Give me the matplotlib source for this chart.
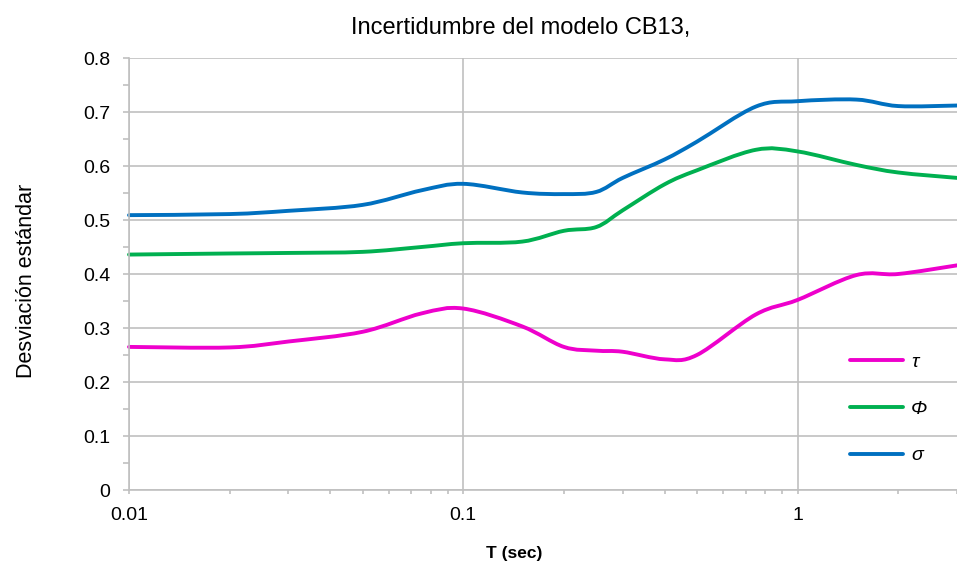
import numpy as np
import matplotlib
matplotlib.use('Agg')
import matplotlib.pyplot as plt
from matplotlib.path import Path
from matplotlib.patches import PathPatch
from matplotlib.lines import Line2D
from matplotlib.ticker import FixedLocator, NullFormatter, FuncFormatter

plt.rcParams['font.family'] = ['Liberation Sans', 'DejaVu Sans']

# Periods (s) and standard deviations of the CB13 model
periods = [0.01, 0.02, 0.03, 0.05, 0.075, 0.1, 0.15, 0.2, 0.25, 0.3, 0.4, 0.5, 0.75, 1.0, 1.5, 2.0, 3.0]
tau = [0.265, 0.264, 0.275, 0.293, 0.327, 0.336, 0.303, 0.265, 0.258, 0.256, 0.242, 0.250, 0.325, 0.352, 0.398, 0.400, 0.416]
phi = [0.436, 0.438, 0.439, 0.441, 0.450, 0.457, 0.460, 0.480, 0.487, 0.518, 0.566, 0.592, 0.630, 0.627, 0.602, 0.588, 0.578]
sigma = [0.509, 0.511, 0.517, 0.528, 0.555, 0.567, 0.551, 0.548, 0.552, 0.578, 0.612, 0.645, 0.710, 0.720, 0.723, 0.711, 0.712]

series_labels = ['τ', 'Φ', 'σ']
series_colors = ['#EE00CC', '#00B050', '#0070C0']


def smooth_path(x, y, k=1/6):
    # spreadsheet-style smoothed line: cubic Bezier through every point (in log-x space)
    lx = np.log10(x)
    y = np.asarray(y, float)
    n = len(lx)
    verts = [(lx[0], y[0])]
    codes = [Path.MOVETO]
    for i in range(n - 1):
        p0 = (lx[max(i - 1, 0)], y[max(i - 1, 0)])
        p1 = (lx[i], y[i])
        p2 = (lx[i + 1], y[i + 1])
        p3 = (lx[min(i + 2, n - 1)], y[min(i + 2, n - 1)])
        c1 = (p1[0] + (p2[0] - p0[0]) * k, p1[1] + (p2[1] - p0[1]) * k)
        c2 = (p2[0] - (p3[0] - p1[0]) * k, p2[1] - (p3[1] - p1[1]) * k)
        verts += [c1, c2, p2]
        codes += [Path.CURVE4] * 3
    verts = [(10 ** vx, vy) for vx, vy in verts]
    return Path(verts, codes)


fig = plt.figure(figsize=(9.57, 5.67), dpi=100)
ax = fig.add_axes([0.1348, 0.1358, 0.8652, 0.7619])

ax.set_xscale('log')
ax.set_xlim(0.01, 3)
ax.set_ylim(0, 0.8)

grid_col = '#C0C0C0'
ax.grid(True, which='major', color=grid_col, linewidth=1.2)
ax.set_axisbelow(True)
for s in ['top', 'right']:
    ax.spines[s].set_visible(False)
for s in ['left', 'bottom']:
    ax.spines[s].set_color(grid_col)
    ax.spines[s].set_linewidth(1.2)

ax.set_yticks(np.arange(0, 0.81, 0.1))
ax.yaxis.set_minor_locator(FixedLocator(np.arange(0.05, 0.8, 0.1)))
ax.yaxis.set_major_formatter(FuncFormatter(lambda v, p: '0' if v == 0 else f'{v:.1f}'))
ax.set_xticks([0.01, 0.1, 1])
ax.set_xticklabels(['0.01', '0.1', '1'])
ax.xaxis.set_minor_formatter(NullFormatter())
ax.tick_params(which='both', color=grid_col, width=1.2, labelsize=14, labelcolor='black')
ax.tick_params(axis='y', which='both', length=4.5, pad=9)
ax.tick_params(axis='x', which='both', length=3, pad=9)

handles = []
for vals, lab, col in zip([tau, phi, sigma], series_labels, series_colors):
    patch = PathPatch(smooth_path(periods, vals), facecolor='none', edgecolor=col,
                      linewidth=2.8, capstyle='round', transform=ax.transData, clip_on=False)
    ax.add_patch(patch)
    handles.append(Line2D([], [], color=col, linewidth=2.8, solid_capstyle='round', label=lab))

leg = ax.legend(handles=handles, loc='upper left', bbox_to_anchor=(0.8495, 0.357),
                frameon=False, handlelength=2.75, handletextpad=0.4, labelspacing=1.5,
                prop={'size': 14, 'style': 'italic'})

fig.text(0.5444, 0.951, 'Incertidumbre del modelo CB13,', ha='center', va='center', fontsize=17)
fig.text(0.028, 0.504, 'Desviación estándar', rotation=90, ha='center', va='center', fontsize=15.5)
fig.text(0.537, 0.024, 'T (sec)', ha='center', va='center', fontsize=12.5, fontweight='bold')

fig.savefig('out.png', dpi=100)
